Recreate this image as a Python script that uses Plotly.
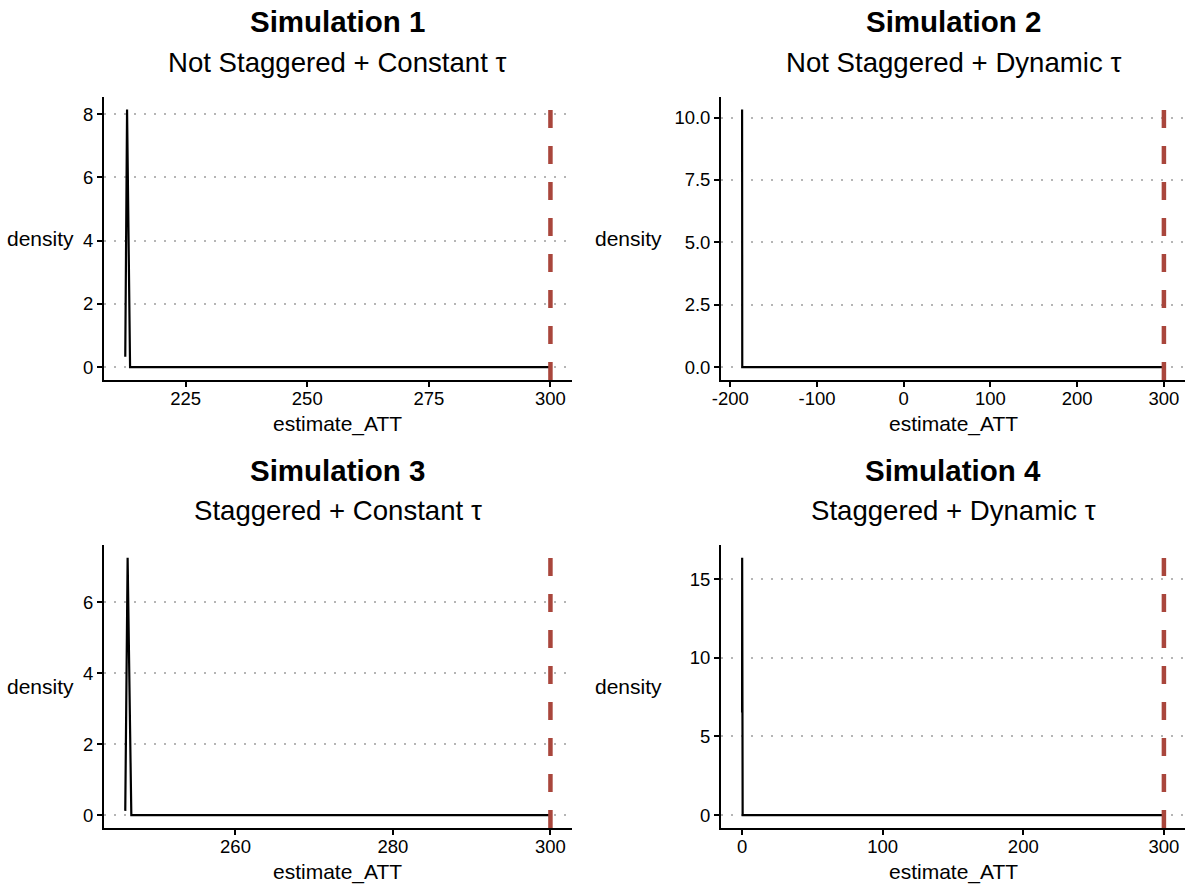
import plotly.graph_objects as go

# Density curves of the ATT estimates per simulation (x = estimate_ATT, y = density)
sim1_x = [212.58, 212.95, 213.57, 300.0]
sim1_y = [0.33, 8.15, 0.0, 0.0]

sim2_x = [-186.4, -186.2, 300.0]
sim2_y = [10.33, 0.0, 0.0]

sim3_x = [246.0, 246.3, 246.77, 300.0]
sim3_y = [0.12, 7.25, 0.0, 0.0]

sim4_x = [0.0, 0.05, 0.4, 300.0]
sim4_y = [6.53, 16.35, 0.0, 0.0]

true_att = 300

titles = ["Simulation 1", "Simulation 2", "Simulation 3", "Simulation 4"]
subtitles = ["Not Staggered + Constant τ", "Not Staggered + Dynamic τ",
             "Staggered + Constant τ", "Staggered + Dynamic τ"]

x_ticks = [[225, 250, 275, 300], [-200, -100, 0, 100, 200, 300],
           [260, 280, 300], [0, 100, 200, 300]]
y_ticks = [[0, 2, 4, 6, 8], [0.0, 2.5, 5.0, 7.5, 10.0],
           [0, 2, 4, 6], [0, 5, 10, 15]]
y_formats = ["{:d}", "{:.1f}", "{:d}", "{:d}"]

W, H = 1185, 884
FONT = "Liberation Sans, Arial, sans-serif"

# panel boxes in pixels: (left, right) per column, (top, bottom) per row
cols = [(104, 571.7), (721, 1185)]
rows = [(96.5, 380), (545, 828)]
# gap between y-axis line and the "density" label, per column
ylab_gap = [28, 57]

series = [(sim1_x, sim1_y), (sim2_x, sim2_y), (sim3_x, sim3_y), (sim4_x, sim4_y)]

fig = go.Figure()
annotations = []
shapes = []


def expand(lo, hi, frac=0.05):
    span = hi - lo
    return [lo - frac * span, hi + frac * span]


for i, (xs, ys) in enumerate(series):
    r, c = divmod(i, 2)
    left, right = cols[c]
    top, bottom = rows[r]
    xa = "xaxis" if i == 0 else f"xaxis{i+1}"
    ya = "yaxis" if i == 0 else f"yaxis{i+1}"
    xref = "x" if i == 0 else f"x{i+1}"
    yref = "y" if i == 0 else f"y{i+1}"

    fig.add_trace(go.Scatter(x=xs, y=ys, mode="lines", xaxis=xref, yaxis=yref,
                             line=dict(color="black", width=2.2), showlegend=False,
                             hoverinfo="skip"))

    xr = expand(min(min(xs), true_att), max(max(xs), true_att))
    yr = expand(0, max(ys))

    fig.layout[xa] = dict(
        domain=[left / W, right / W], range=xr, anchor=yref, automargin=False,
        showline=True, linecolor="black", linewidth=1.8,
        ticks="outside", ticklen=5, tickwidth=1.8, tickcolor="black",
        tickvals=x_ticks[i], ticktext=[str(v) for v in x_ticks[i]],
        ticklabelstandoff=-4,
        showgrid=False, zeroline=False,
        tickfont=dict(family=FONT, size=18.5, color="black"),
        fixedrange=True,
    )
    fig.layout[ya] = dict(
        domain=[1 - bottom / H, 1 - top / H], range=yr, anchor=xref, automargin=False,
        showline=True, linecolor="black", linewidth=1.8,
        ticks="outside", ticklen=5, tickwidth=1.8, tickcolor="black",
        tickvals=y_ticks[i], ticktext=[y_formats[i].format(v) for v in y_ticks[i]],
        showgrid=True, gridcolor="#b5b5b5", gridwidth=2.4, griddash="2px,8px",
        zeroline=False,
        tickfont=dict(family=FONT, size=18.5, color="black"),
        fixedrange=True,
    )

    # reference line at the true effect
    shapes.append(dict(type="line", xref=xref, yref=f"{yref} domain",
                       x0=true_att, x1=true_att, y0=0, y1=1,
                       line=dict(color="#A9463C", width=4.5, dash="18px,18px"),
                       layer="above"))

    cx = (left + right) / 2 / W
    annotations.append(dict(text=f"<b>{titles[i]}</b>", x=cx, y=1 - (top - 75) / H,
                            xref="paper", yref="paper", showarrow=False,
                            xanchor="center", yanchor="middle",
                            font=dict(family=FONT, size=29.5, color="black")))
    annotations.append(dict(text=subtitles[i], x=cx, y=1 - (top - 34) / H,
                            xref="paper", yref="paper", showarrow=False,
                            xanchor="center", yanchor="middle",
                            font=dict(family=FONT, size=27.6, color="black")))
    annotations.append(dict(text="estimate_ATT", x=cx, y=1 - (bottom + 44) / H,
                            xref="paper", yref="paper", showarrow=False,
                            xanchor="center", yanchor="middle",
                            font=dict(family=FONT, size=21, color="black")))
    annotations.append(dict(text="density", x=(left - ylab_gap[c]) / W,
                            y=1 - (top + bottom) / 2 / H,
                            xref="paper", yref="paper", showarrow=False,
                            xanchor="right", yanchor="middle",
                            font=dict(family=FONT, size=21, color="black")))

fig.update_layout(
    template="none",
    width=W, height=H, autosize=False,
    margin=dict(l=0, r=0, t=0, b=0, autoexpand=False),
    paper_bgcolor="white", plot_bgcolor="white",
    annotations=annotations, shapes=shapes,
    showlegend=False,
)

fig.write_html("out.html")
